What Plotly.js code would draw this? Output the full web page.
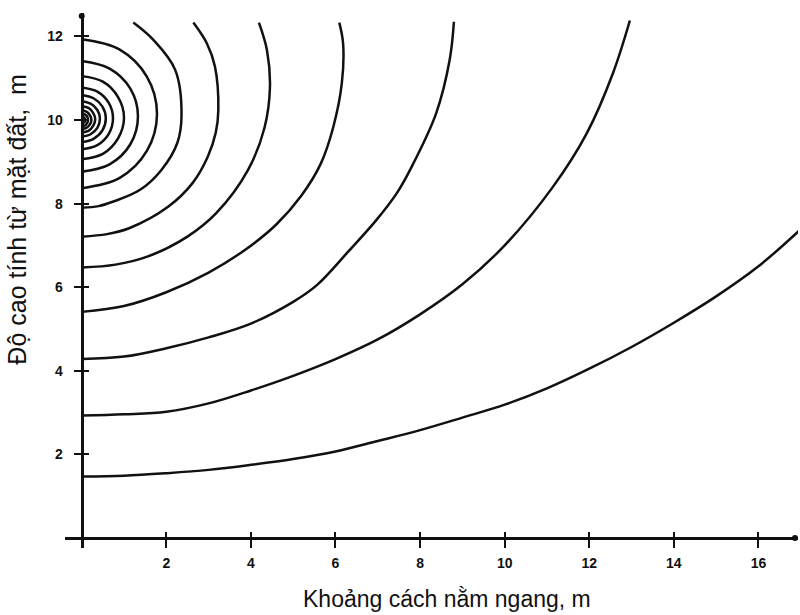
<!DOCTYPE html>
<html>
<head>
<meta charset="utf-8">
<script src="https://cdn.plot.ly/plotly-3.0.1.min.js"></script>
<style>html,body{margin:0;padding:0;background:#fff;}#chart{width:800px;height:615px;}</style>
</head>
<body>
<div id="chart"></div>
<script>
// Tick labels
const xTickVals = [2, 4, 6, 8, 10, 12, 14, 16];
const yTickVals = [2, 4, 6, 8, 10, 12];
const xTitle = "Khoảng cách nằm ngang, m";
const yTitle = "Độ cao tính từ mặt đất,  m";

// Curves (x = horizontal distance, y = height), metres
const c1x = [0, 1, 2, 3, 4, 5, 6, 7, 8, 9, 10, 11, 12, 13, 14, 15, 16, 16.98];
const c1y = [1.47, 1.49, 1.55, 1.63, 1.75, 1.89, 2.07, 2.32, 2.58, 2.88, 3.19, 3.58, 4.05, 4.57, 5.15, 5.78, 6.50, 7.37];
const c2x = [0, 1, 2, 3, 4, 5, 6, 7, 8, 9, 10, 11.14, 11.94, 12.56, 12.96];
const c2y = [2.93, 2.96, 3.02, 3.22, 3.53, 3.88, 4.28, 4.75, 5.35, 6.07, 7.00, 8.40, 9.68, 11.12, 12.38];
const c3x = [0, 1, 2, 3, 4, 5, 5.56, 6.3, 6.97, 7.45, 7.80, 8.38, 8.70, 8.80];
const c3y = [4.28, 4.34, 4.54, 4.80, 5.13, 5.65, 6.05, 6.85, 7.61, 8.25, 8.88, 10.16, 11.44, 12.35];
const c4x = [0, 1, 2, 3, 3.9, 4.6, 5.2, 5.65, 5.95, 6.15, 6.18, 6.09];
const c4y = [5.41, 5.55, 5.88, 6.35, 6.92, 7.50, 8.20, 8.95, 9.84, 10.88, 11.83, 12.33];
const c5x = [0, 0.8, 1.55, 2.5, 3.18, 3.93, 4.32, 4.45, 4.38, 4.19];
const c5y = [6.47, 6.54, 6.73, 7.21, 7.77, 8.80, 9.81, 10.77, 11.67, 12.33];
const c6x = [0, 0.6, 1.12, 2.05, 2.62, 2.98, 3.17, 3.23, 3.15, 2.96, 2.64];
const c6y = [7.21, 7.27, 7.41, 7.93, 8.49, 9.12, 9.70, 10.24, 11.28, 11.83, 12.33];
const c7x = [0, 0.4, 0.75, 1.38, 1.88, 2.26, 2.36, 2.21, 1.70, 1.22];
const c7y = [7.90, 7.94, 8.05, 8.33, 8.80, 9.45, 10.12, 11.20, 11.91, 12.33];
const c8x = [0, 0.89, 1.54, 1.78, 1.54, 0.89, 0];
const c8y = [8.37, 8.61, 9.26, 10.15, 11.04, 11.69, 11.93];
const c9x = [0, 0.66, 1.15, 1.33, 1.15, 0.66, 0];
const c9y = [8.76, 8.94, 9.42, 10.09, 10.75, 11.23, 11.41];
const c10x = [0, 0.50, 0.86, 1.00, 0.86, 0.50, 0];
const c10y = [9.06, 9.19, 9.56, 10.06, 10.55, 10.92, 11.05];
const c11x = [0, 0.37, 0.64, 0.74, 0.64, 0.37, 0];
const c11y = [9.30, 9.40, 9.67, 10.04, 10.41, 10.68, 10.78];
const c12x = [0, 0.28, 0.49, 0.57, 0.49, 0.28, 0];
const c12y = [9.47, 9.55, 9.75, 10.04, 10.32, 10.52, 10.60];
const c13x = [0, 0.21, 0.37, 0.43, 0.37, 0.21, 0];
const c13y = [9.60, 9.66, 9.81, 10.03, 10.24, 10.39, 10.45];
const c14x = [0, 0.16, 0.27, 0.32, 0.27, 0.16, 0];
const c14y = [9.70, 9.74, 9.86, 10.02, 10.17, 10.29, 10.33];
const c15x = [0, 0.11, 0.19, 0.23, 0.19, 0.11, 0];
const c15y = [9.78, 9.81, 9.89, 10.00, 10.12, 10.20, 10.23];
const c16x = [0, 0.08, 0.13, 0.15, 0.13, 0.08, 0];
const c16y = [9.85, 9.87, 9.93, 10.00, 10.08, 10.13, 10.15];
const c17x = [0, 0.04, 0.07, 0.08, 0.07, 0.04, 0];
const c17y = [9.92, 9.93, 9.96, 10.00, 10.04, 10.07, 10.08];

const curves = [
  [c1x, c1y], [c2x, c2y], [c3x, c3y], [c4x, c4y], [c5x, c5y], [c6x, c6y],
  [c7x, c7y], [c8x, c8y], [c9x, c9y], [c10x, c10y], [c11x, c11y], [c12x, c12y],
  [c13x, c13y], [c14x, c14y], [c15x, c15y], [c16x, c16y], [c17x, c17y]
];

const ink = '#111';
const traces = curves.map(c => ({
  x: c[0], y: c[1], type: 'scatter', mode: 'lines',
  line: {color: ink, width: 2.5, shape: 'spline', smoothing: 1},
  hoverinfo: 'skip', showlegend: false
}));
// helper trace for the overlay axes (inner half of the crossing ticks)
traces.push({x: [], y: [], xaxis: 'x2', yaxis: 'y2', type: 'scatter', mode: 'lines', showlegend: false, hoverinfo: 'skip'});

const xRange = [-0.395, 16.935];
const yRange = [-0.239, 12.56];
const xPos = 0.395 / (xRange[1] - xRange[0]);
const yPos = 0.239 / (yRange[1] - yRange[0]);
const tickFont = {family: 'Liberation Sans, Arial, sans-serif', size: 14, color: ink, weight: 700};
const titleFont = {family: 'Liberation Sans, Arial, sans-serif', color: ink};

const layout = {
  width: 800, height: 615,
  margin: {l: 65, r: 2, t: 13, b: 67},
  paper_bgcolor: '#fff', plot_bgcolor: '#fff',
  xaxis: {
    range: xRange, anchor: 'free', position: yPos,
    showline: true, linewidth: 3, linecolor: ink,
    showgrid: false, zeroline: false,
    tickmode: 'array', tickvals: xTickVals, ticktext: xTickVals.map(String),
    ticks: 'outside', ticklen: 8, tickwidth: 2, tickcolor: ink,
    ticklabelstandoff: 3, tickfont: tickFont
  },
  yaxis: {
    range: yRange, anchor: 'free', position: xPos,
    showline: true, linewidth: 3, linecolor: ink,
    showgrid: false, zeroline: false,
    tickmode: 'array', tickvals: yTickVals, ticktext: yTickVals.map(String),
    ticks: 'outside', ticklen: 7, tickwidth: 2, tickcolor: ink,
    ticklabelstandoff: 8, tickfont: tickFont
  },
  xaxis2: {
    range: xRange, overlaying: 'x', anchor: 'free', position: yPos,
    showline: false, showgrid: false, zeroline: false,
    tickmode: 'array', tickvals: xTickVals, showticklabels: false,
    ticks: 'inside', ticklen: 6, tickwidth: 2, tickcolor: ink
  },
  yaxis2: {
    range: yRange, overlaying: 'y', anchor: 'free', position: xPos,
    showline: false, showgrid: false, zeroline: false,
    tickmode: 'array', tickvals: yTickVals, showticklabels: false,
    ticks: 'inside', ticklen: 6, tickwidth: 2, tickcolor: ink
  },
  annotations: [
    {text: xTitle, xref: 'paper', yref: 'paper', x: 0.521, y: -0.095, xanchor: 'center', yanchor: 'middle',
     showarrow: false, font: Object.assign({size: 23}, titleFont)},
    {text: yTitle, xref: 'paper', yref: 'paper', x: -0.066, y: 0.613, xanchor: 'center', yanchor: 'middle',
     textangle: -90, showarrow: false, font: Object.assign({size: 25}, titleFont)}
  ],
  shapes: [
    {type: 'circle', xref: 'x', yref: 'paper', xsizemode: 'pixel', ysizemode: 'pixel',
     xanchor: 0, yanchor: 1, x0: -3, x1: 3, y0: -6, y1: 0, fillcolor: ink, line: {width: 0}},
    {type: 'circle', xref: 'paper', yref: 'y', xsizemode: 'pixel', ysizemode: 'pixel',
     xanchor: 1, yanchor: 0, x0: -6, x1: 0, y0: -3, y1: 3, fillcolor: ink, line: {width: 0}}
  ]
};

Plotly.newPlot('chart', traces, layout, {displayModeBar: false, staticPlot: true});
</script>
</body>
</html>
